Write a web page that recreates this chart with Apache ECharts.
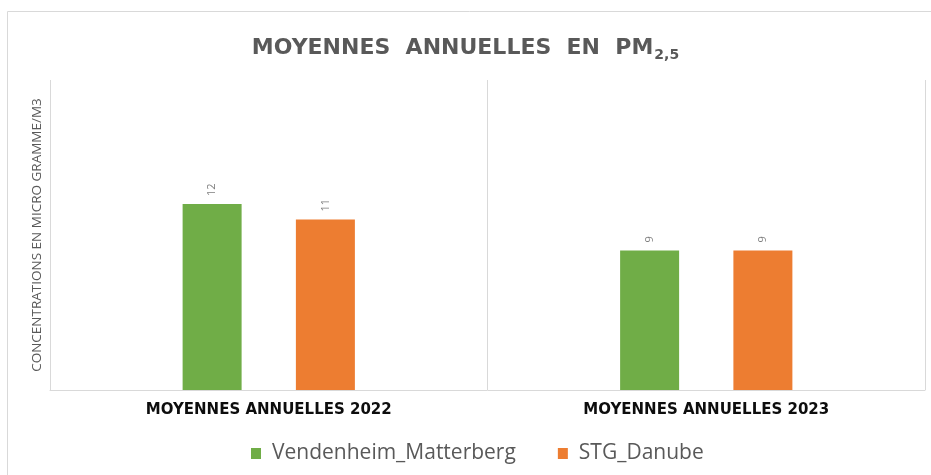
<!DOCTYPE html>
<html>
<head>
<meta charset="utf-8">
<script src="https://cdn.jsdelivr.net/npm/echarts@6/dist/echarts.min.js"></script>
<style>
  html, body { margin: 0; padding: 0; background: #fff; }
  #chart { width: 931px; height: 475px; }
</style>
</head>
<body>
<div id="chart"></div>
<script>
const categories = ['MOYENNES ANNUELLES 2022', 'MOYENNES ANNUELLES 2023']
const vendenheim = [12, 9]
const danube = [11, 9]
const seriesNames = ['Vendenheim_Matterberg', 'STG_Danube']

const chart = echarts.init(document.getElementById('chart'))
const font = '"Open Sans", "DejaVu Sans", sans-serif'
const wide = '"DejaVu Sans", sans-serif'

const labelStyle = {
  show: true,
  position: 'top',
  rotate: 90,
  align: 'left',
  verticalAlign: 'middle',
  distance: 8,
  color: '#7f7f7f',
  fontSize: 11,
  fontFamily: font
}

chart.setOption({
  animation: false,
  textStyle: { fontFamily: font },
  graphic: [{
    type: 'rect',
    shape: { x: 7.5, y: 11.5, width: 940, height: 480 },
    style: { fill: 'none', stroke: '#d9d9d9', lineWidth: 1 },
    silent: true
  }],
  title: {
    text: 'MOYENNES  ANNUELLES  EN  PM{sub|2,5}',
    left: 'center',
    top: 29,
    textStyle: {
      color: '#595959',
      fontSize: 22,
      fontWeight: 'bold',
      fontFamily: wide,
      rich: {
        sub: { fontSize: 14, fontWeight: 'bold', color: '#595959', padding: [14, 0, 0, 1], fontFamily: wide }
      }
    }
  },
  legend: {
    bottom: 6,
    left: 246,
    itemWidth: 10,
    itemHeight: 11,
    itemGap: 42,
    icon: 'rect',
    textStyle: { color: '#595959', fontSize: 21, fontFamily: font, padding: [0, 0, 0, 6] },
    data: seriesNames
  },
  grid: { left: 50, right: 6, top: 80, bottom: 85, containLabel: false },
  xAxis: {
    type: 'category',
    data: categories,
    axisLine: { lineStyle: { color: '#d9d9d9' } },
    axisTick: { show: false },
    splitLine: { show: true, lineStyle: { color: '#d9d9d9' } },
    axisLabel: { color: '#0d0d0d', fontSize: 15, fontWeight: 'bold', margin: 13, fontFamily: wide }
  },
  yAxis: {
    type: 'value',
    min: 0,
    max: 20,
    name: 'CONCENTRATIONS EN MICRO GRAMME/M3',
    nameLocation: 'middle',
    nameGap: 6,
    nameTextStyle: { color: '#595959', fontSize: 13.5, fontFamily: font },
    axisLine: { show: false },
    axisTick: { show: false },
    axisLabel: { show: false },
    splitLine: { show: false }
  },
  series: [
    {
      name: seriesNames[0],
      type: 'bar',
      data: vendenheim,
      barWidth: 59,
      barGap: '92%',
      itemStyle: { color: '#70ad47' },
      label: labelStyle
    },
    {
      name: seriesNames[1],
      type: 'bar',
      data: danube,
      barWidth: 59,
      itemStyle: { color: '#ed7d31' },
      label: labelStyle
    }
  ]
})
</script>
</body>
</html>
